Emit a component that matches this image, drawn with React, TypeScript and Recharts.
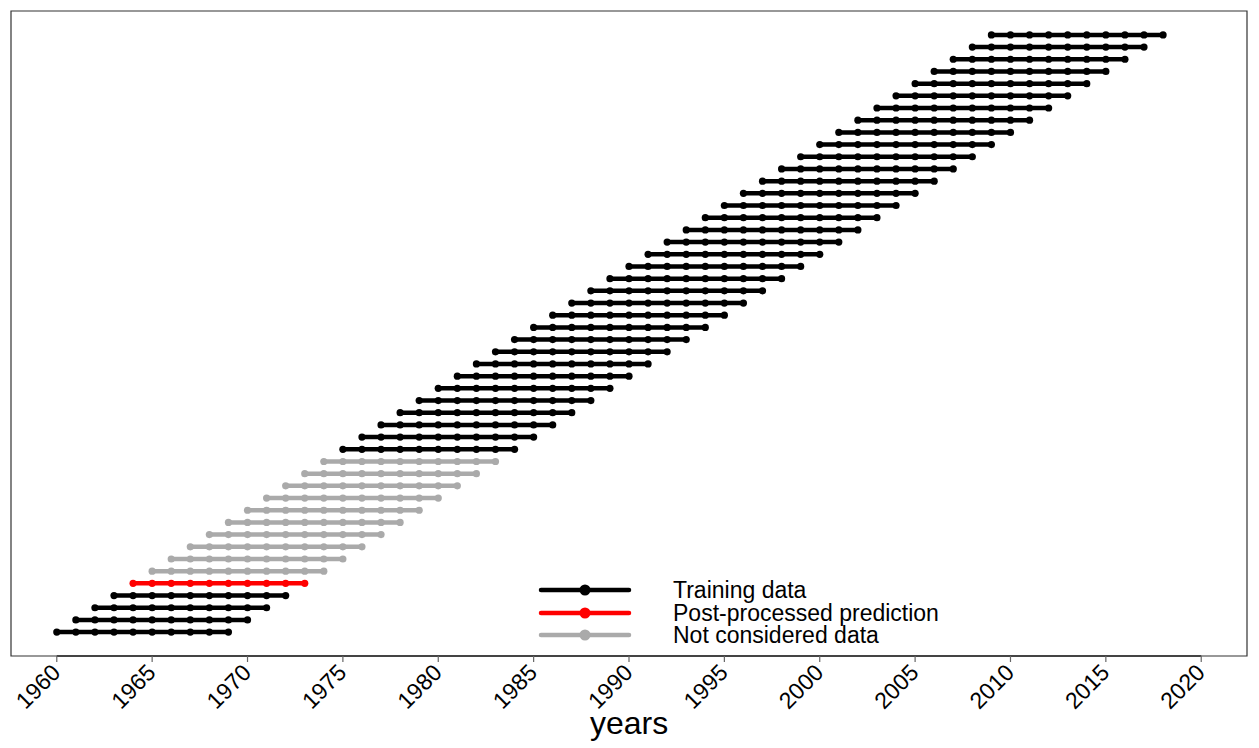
import React from 'react';
import { LineChart, Line, XAxis, YAxis, ReferenceArea, ReferenceLine } from 'recharts';

// first year of each 10-year window, grouped by role
const trainingStarts = [
  1960, 1961, 1962, 1963,
  1975, 1976, 1977, 1978, 1979, 1980, 1981, 1982, 1983, 1984,
  1985, 1986, 1987, 1988, 1989, 1990, 1991, 1992, 1993, 1994,
  1995, 1996, 1997, 1998, 1999, 2000, 2001, 2002, 2003, 2004,
  2005, 2006, 2007, 2008, 2009,
];
const predictionStarts = [1964];
const notConsideredStarts = [1965, 1966, 1967, 1968, 1969, 1970, 1971, 1972, 1973, 1974];
const windowYears = [0, 1, 2, 3, 4, 5, 6, 7, 8, 9];
const xTicks = [1960, 1965, 1970, 1975, 1980, 1985, 1990, 1995, 2000, 2005, 2010, 2015, 2020];

const legendItems = [
  { label: 'Training data', color: '#000000' },
  { label: 'Post-processed prediction', color: '#ff0000' },
  { label: 'Not considered data', color: '#aaaaaa' },
];

const FONT = '"Liberation Sans", Arial, Helvetica, sans-serif';

type Row = { key: string; color: string; points: { x: number; y: number }[] };

const toRows = (starts: number[], color: string): Row[] =>
  starts.map((s) => ({
    key: `${color}-${s}`,
    color,
    points: windowYears.map((o) => ({ x: s + o, y: s - 1959 })),
  }));

const rows: Row[] = [
  ...toRows(trainingStarts, '#000000'),
  ...toRows(notConsideredStarts, '#aaaaaa'),
  ...toRows(predictionStarts, '#ff0000'),
];

const RotatedTick = (props: any) => {
  const { x, y, payload } = props;
  const ax = x + 5;
  const ay = y + 10;
  return (
    <text
      x={ax}
      y={ay}
      transform={`rotate(-45, ${ax}, ${ay})`}
      textAnchor="end"
      fontSize={23}
      fontFamily={FONT}
      fill="#000"
    >
      {payload.value}
    </text>
  );
};

const LegendBox = () => (
  <div
    style={{
      position: 'absolute',
      left: 538,
      top: 579,
      fontFamily: FONT,
      fontSize: 23,
      color: '#000',
    }}
  >
    {legendItems.map((it) => (
      <div key={it.label} style={{ display: 'flex', alignItems: 'center', height: 22.5 }}>
        <svg width={135} height={22} style={{ flex: 'none' }}>
          <line x1={3} x2={91} y1={11} y2={11} stroke={it.color} strokeWidth={4.5} strokeLinecap="round" />
          <circle cx={47} cy={11} r={5.5} fill={it.color} />
        </svg>
        <span style={{ whiteSpace: 'nowrap', lineHeight: '22px' }}>{it.label}</span>
      </div>
    ))}
  </div>
);

export default function App() {
  return (
    <div style={{ position: 'absolute', left: 0, top: 0, width: 1259, height: 748, background: '#fff' }}>
      <LineChart width={1259} height={748} margin={{ top: 11, right: 12, left: 11, bottom: 0 }}>
        <XAxis
          type="number"
          dataKey="x"
          domain={[1957.6, 2022.4]}
          ticks={xTicks}
          allowDataOverflow
          height={92}
          axisLine={false}
          tickLine={{ stroke: '#666', strokeWidth: 1.2 }}
          tickSize={6}
          tick={<RotatedTick />}
          interval={0}
          label={{ value: 'years', position: 'insideBottom', offset: 14, fontSize: 32, fontFamily: FONT, fill: '#000' }}
        />
        <YAxis type="number" dataKey="y" domain={[-0.96, 51.96]} allowDataOverflow hide />
        <ReferenceArea x1={1957.6} x2={2022.4} y1={-0.96} y2={51.96} fill="none" stroke="#333" strokeWidth={1.2} />
        <ReferenceLine
          segment={[{ x: 1960, y: -0.96 }, { x: 2020, y: -0.96 }]}
          stroke="#444"
          strokeWidth={2}
        />
        {rows.map((r) => (
          <Line
            key={r.key}
            data={r.points}
            dataKey="y"
            stroke={r.color}
            strokeWidth={4.5}
            dot={{ r: 3.6, fill: r.color, stroke: 'none' }}
            activeDot={false}
            isAnimationActive={false}
            legendType="none"
          />
        ))}
      </LineChart>
      <LegendBox />
    </div>
  );
}
